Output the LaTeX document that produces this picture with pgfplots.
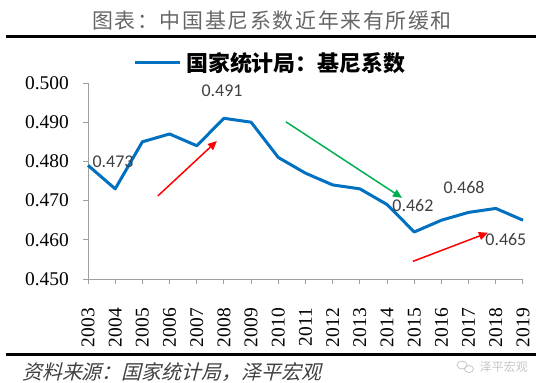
\documentclass[border=0pt]{standalone}
\usepackage{pgfplots}
\pgfplotsset{compat=1.18}
\usetikzlibrary{arrows.meta}
\usepackage{fontspec}
\setmainfont{Liberation Serif}
\newfontfamily\cjk{Noto Sans CJK SC}
\newfontfamily\lab{Carlito}
\newfontfamily\tms{Liberation Serif}
\definecolor{lineblue}{RGB}{0,112,192}
\definecolor{axgray}{RGB}{160,160,160}
\definecolor{txtgray}{RGB}{64,64,64}
\definecolor{arrgreen}{RGB}{0,176,80}
\begin{document}
\begin{tikzpicture}[x=1bp,y=1bp]
\useasboundingbox (0,0) rectangle (542,-382);
% header
\node[text=txtgray!80] at (272,-21) {\cjk\addfontfeature{LetterSpace=8}\fontsize{21}{24}\selectfont 图表：中国基尼系数近年来有所缓和};
\draw[line width=3bp] (6,-36.5) -- (536,-36.5);
\draw[lineblue, line width=3bp] (135,-62.5) -- (180,-62.5);
\node[anchor=west, inner sep=0pt] at (186,-63.5) {\cjk\bfseries\fontsize{22}{24}\selectfont 国家统计局：基尼系数};
% footer
\draw[line width=3bp] (6,-354.5) -- (536,-354.5);
\node[anchor=west, inner sep=0pt, text=txtgray] at (22,-372) {\cjk\addfontfeature{FakeSlant=0.25}\fontsize{20}{22}\selectfont 资料来源：国家统计局，泽平宏观};
\node[anchor=east, inner sep=0pt, text=gray!45] at (528,-367) {\cjk\fontsize{12}{14}\selectfont 泽平宏观};
\draw[gray!45, line width=0.8bp] (462,-365) ellipse (5 and 4);
\draw[gray!45, line width=0.8bp] (469,-369) ellipse (4.5 and 3.5);
\begin{axis}[
  at={(88bp,-279bp)}, anchor=south west,
  scale only axis, width=435bp, height=196bp,
  xmin=2003, xmax=2019, ymin=0.45, ymax=0.50,
  axis x line=bottom, axis y line=left,
  axis line style={-, draw=axgray, line width=1bp},
  tick style={draw=axgray, line width=1bp},
  tick align=outside, major tick length=5bp,
  xtick={2003,2004,...,2019},
  ytick={0.45,0.46,0.47,0.48,0.49,0.50},
  xticklabel={\tms\pgfmathprintnumber[1000 sep={},assume math mode=true]{\tick}},
  yticklabel={\tms\pgfmathprintnumber[fixed,fixed zerofill,precision=3,assume math mode=true]{\tick}},
  xticklabel shift=12bp,
  xticklabel style={rotate=90, anchor=east, inner xsep=12bp, font=\fontsize{19.5}{21}\selectfont},
  yticklabel style={inner xsep=14bp, font=\fontsize{19.5}{21}\selectfont},
  clip=false,
]
\addplot[lineblue, line width=3bp, line join=round] coordinates {
(2003,0.479) (2004,0.473) (2005,0.485) (2006,0.487) (2007,0.484) (2008,0.491)
(2009,0.490) (2010,0.481) (2011,0.477) (2012,0.474) (2013,0.473) (2014,0.469)
(2015,0.462) (2016,0.465) (2017,0.467) (2018,0.468) (2019,0.465)};
\draw[red, line width=1.5bp, -{Triangle[length=9bp,width=8bp]}] (axis cs:2005.57,0.4712) -- (axis cs:2007.74,0.4852);
\draw[arrgreen, line width=1.5bp, -{Triangle[length=9bp,width=8bp]}] (axis cs:2010.28,0.4901) -- (axis cs:2014.55,0.4707);
\draw[red, line width=1.5bp, -{Triangle[length=9bp,width=8bp]}] (axis cs:2014.95,0.4545) -- (axis cs:2017.71,0.4618);
\node[text=txtgray, font=\lab\fontsize{18}{20}\selectfont] at (axis cs:2003.92,0.4799) {0.473};
\node[text=txtgray, font=\lab\fontsize{18}{20}\selectfont] at (axis cs:2007.93,0.4980) {0.491};
\node[text=txtgray, font=\lab\fontsize{18}{20}\selectfont] at (axis cs:2014.95,0.4687) {0.462};
\node[text=txtgray, font=\lab\fontsize{18}{20}\selectfont] at (axis cs:2016.83,0.4733) {0.468};
\node[text=txtgray, font=\lab\fontsize{18}{20}\selectfont] at (axis cs:2018.37,0.4600) {0.465};
\end{axis}
\end{tikzpicture}
\end{document}
